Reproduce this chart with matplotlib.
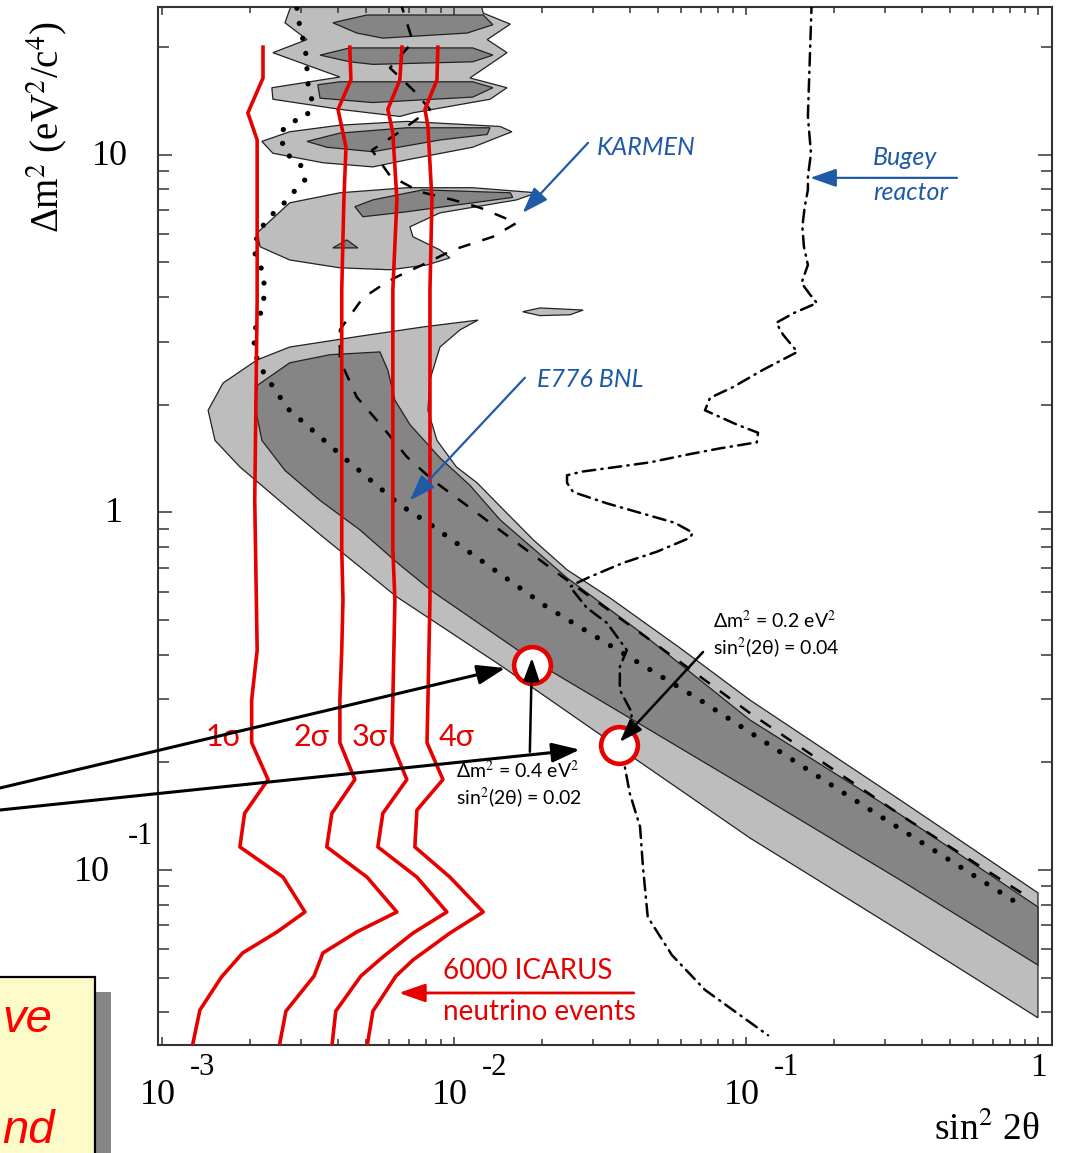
# ICARUS sensitivity vs LSND allowed region (sin^2 2theta, dm^2)

import matplotlib.pyplot as plt
from matplotlib.patches import Rectangle

plt.rcParams['mathtext.fontset'] = 'stix'
SERIF = 'Liberation Serif'
SANS = ['Lato', 'DejaVu Sans']
RED = '#e60000'
BLUE = '#1f5aa6'
LIGHT = '#bdbdbd'
DARK = '#858585'

# LSND allowed region, outer (light) contour
lsnd_light_x = [1.44e-3, 1.62e-3, 2.12e-3, 2.74e-3, 4.65e-3, 7.83e-3, 1.21e-2, 1.05e-2, 8.96e-3, 8.28e-3,
                8.15e-3, 8.75e-3, 1.02e-2, 1.20e-2, 1.44e-2, 1.87e-2, 2.44e-2, 3.42e-2, 5.94e-2, 0.103,
                0.337, 1.0, 1.0, 0.337, 0.103, 3.70e-2, 1.44e-2, 6.38e-3, 3.56e-3, 2.74e-3, 1.85e-3, 1.52e-3]
lsnd_light_y = [1.93, 2.30, 2.67, 2.90, 3.10, 3.30, 3.45, 3.24, 2.90, 2.35,
                1.93, 1.59, 1.34, 1.21, 1.04, 0.838, 0.691, 0.577, 0.418, 0.299,
                0.157, 0.0863, 0.0386, 0.0675, 0.123, 0.219, 0.374, 0.580, 0.854, 1.02, 1.34, 1.59]

# LSND allowed region, inner (dark) contour
lsnd_dark_x = [2.08e-3, 2.13e-3, 2.74e-3, 3.76e-3, 5.58e-3, 5.94e-3, 6.28e-3, 7.07e-3, 8.96e-3, 1.135e-2,
               1.44e-2, 2.44e-2, 4.34e-2, 0.103, 0.337, 1.0, 1.0, 0.337, 0.103, 1.85e-2,
               8.47e-3, 6.53e-3, 4.76e-3, 3.48e-3, 2.64e-3, 2.20e-3]
lsnd_dark_y = [2.00, 2.27, 2.62, 2.76, 2.81, 2.50, 2.06, 1.76, 1.42, 1.19,
               0.953, 0.656, 0.463, 0.263, 0.143, 0.0788, 0.0542, 0.0938, 0.168, 0.387,
               0.600, 0.713, 0.894, 1.08, 1.31, 1.59]

# high dm^2 islands (light)
light_islands = [
    ([2.81e-3, 2.64e-3, 3.14e-3, 2.40e-3, 4.07e-3, 2.38e-3, 2.40e-3, 4.07e-3, 6.53e-3, 7.24e-3,
      1.33e-2, 1.52e-2, 1.135e-2, 1.52e-2, 1.30e-2, 1.56e-2, 1.26e-2, 1.23e-2],
     [27, 23.4, 21.0, 19.3, 16.5, 15.4, 14.3, 13.4, 12.8, 13.1,
      14.3, 15.4, 16.4, 19.3, 21.0, 23.2, 24.9, 27]),
    ([2.20e-3, 2.74e-3, 4.07e-3, 6.90e-3, 1.44e-2, 1.58e-2, 1.16e-2, 6.90e-3, 5.28e-3, 3.56e-3, 2.40e-3],
     [10.9, 11.6, 12.1, 12.4, 12.0, 11.6, 10.5, 9.68, 9.25, 9.50, 10.1]),
    ([2.12e-3, 2.74e-3, 4.07e-3, 6.90e-3, 1.16e-2, 1.92e-2, 1.64e-2, 8.96e-3, 7.07e-3, 7.24e-3,
      8.96e-3, 9.69e-3, 8.09e-3, 6.04e-3, 4.07e-3, 2.74e-3, 2.17e-3],
     [6.05, 7.34, 7.83, 8.09, 8.09, 7.83, 7.48, 6.88, 6.29, 5.90,
      5.42, 5.15, 4.92, 4.77, 4.83, 5.08, 5.53]),
    ([1.72e-2, 1.97e-2, 2.77e-2, 2.50e-2, 1.97e-2],
     [3.64, 3.73, 3.68, 3.57, 3.55]),
]

# high dm^2 islands (dark)
dark_islands = [
    ([3.85e-3, 5.04e-3, 1.26e-2, 1.36e-2, 1.11e-2, 5.71e-3, 4.65e-3], [23.4, 24.6, 24.6, 23.1, 21.9, 21.2, 21.9]),
    ([3.48e-3, 4.40e-3, 1.16e-2, 1.36e-2, 1.16e-2, 5.28e-3, 4.40e-3], [19.0, 19.9, 19.9, 19.0, 18.2, 17.9, 18.2]),
    ([3.42e-3, 4.07e-3, 1.16e-2, 1.36e-2, 1.16e-2, 5.28e-3, 3.48e-3], [15.7, 16.0, 16.0, 15.4, 14.5, 14.0, 14.4]),
    ([3.14e-3, 4.07e-3, 6.90e-3, 1.33e-2, 1.30e-2, 8.96e-3, 5.28e-3, 3.67e-3],
     [10.9, 11.5, 11.9, 11.9, 11.4, 11.0, 10.2, 10.5]),
    ([4.58e-3, 5.28e-3, 7.83e-3, 1.56e-2, 1.59e-2, 1.16e-2, 6.90e-3, 4.88e-3],
     [7.16, 7.48, 7.98, 7.83, 7.60, 7.34, 6.93, 6.71]),
    ([3.85e-3, 4.30e-3, 4.69e-3], [5.49, 5.78, 5.49]),
]

# E776 BNL (dotted)
e776_x = [2.90e-3, 2.97e-3, 3.09e-3, 3.14e-3, 3.14e-3, 3.26e-3, 3.14e-3, 2.74e-3, 2.54e-3, 2.64e-3,
          2.97e-3, 3.09e-3, 2.81e-3, 2.54e-3, 2.31e-3, 2.12e-3, 2.08e-3, 2.20e-3, 2.25e-3, 2.22e-3,
          2.10e-3, 2.07e-3, 2.13e-3, 2.29e-3, 2.70e-3, 4.17e-3, 6.53e-3, 8.15e-3, 2.08e-2, 6.95e-2,
          0.227, 0.881]
e776_y = [25.7, 22.7, 20.0, 18.1, 16.2, 14.4, 12.8, 12.3, 11.5, 10.1,
          9.50, 8.51, 7.83, 7.11, 6.66, 5.97, 5.32, 4.77, 4.25, 3.76,
          3.34, 2.96, 2.62, 2.38, 1.95, 1.43, 1.05, 0.935, 0.544, 0.299,
          0.160, 0.0793]

# KARMEN (dashed)
karmen_x = [6.53e-3, 7.24e-3, 6.04e-3, 7.24e-3, 8.28e-3, 6.53e-3, 5.24e-3, 6.04e-3, 7.65e-3, 9.93e-3,
            1.23e-2, 1.64e-2, 1.36e-2, 9.93e-3, 8.09e-3, 6.38e-3, 5.90e-3, 4.88e-3, 4.07e-3, 4.07e-3,
            4.65e-3, 5.71e-3, 6.90e-3, 8.47e-3, 1.05e-2, 1.33e-2, 2.31e-2, 4.69e-2, 0.103, 0.345, 0.902]
karmen_y = [27, 20.7, 17.5, 15.2, 13.4, 11.6, 10.3, 8.74, 7.88, 7.48,
            7.11, 6.45, 5.90, 5.42, 4.99, 4.56, 4.41, 3.98, 3.24, 2.67,
            2.10, 1.73, 1.43, 1.23, 1.08, 0.935, 0.668, 0.440, 0.275, 0.141, 0.0851]

# Bugey reactor (dash-dot)
bugey_x = [0.168, 0.163, 0.167, 0.163, 0.163, 0.159, 0.156, 0.158, 0.163, 0.155,
           0.166, 0.175, 0.146, 0.127, 0.134, 0.150, 0.114, 9.02e-2, 7.53e-2, 7.24e-2,
           9.31e-2, 0.110, 0.109, 8.14e-2, 6.28e-2, 4.69e-2, 3.61e-2, 2.74e-2, 2.44e-2, 2.44e-2,
           2.56e-2, 3.34e-2, 4.34e-2, 5.71e-2, 6.58e-2, 6.43e-2, 4.95e-2, 3.79e-2, 2.92e-2, 2.64e-2,
           2.50e-2, 2.85e-2, 3.34e-2, 3.91e-2, 3.70e-2, 3.70e-2, 4.07e-2, 3.85e-2, 4.00e-2, 4.34e-2,
           4.44e-2, 4.61e-2, 5.58e-2, 7.24e-2, 9.53e-2, 0.119]
bugey_y = [27, 12.8, 10.1, 8.68, 7.98, 7.16, 6.29, 5.53, 4.92, 4.38,
           4.06, 3.85, 3.61, 3.39, 3.14, 2.81, 2.50, 2.24, 2.09, 1.93,
           1.76, 1.67, 1.57, 1.51, 1.45, 1.38, 1.34, 1.30, 1.27, 1.21,
           1.14, 1.06, 0.997, 0.935, 0.877, 0.849, 0.776, 0.722, 0.660, 0.635,
           0.619, 0.541, 0.491, 0.412, 0.370, 0.319, 0.275, 0.194, 0.164, 0.132,
           0.102, 0.0739, 0.0578, 0.0462, 0.0393, 0.0345]

# ICARUS 6000 events sensitivity, 1..4 sigma
s1_x = [2.22e-3, 2.22e-3, 1.97e-3, 2.12e-3, 2.12e-3, 2.08e-3, 2.12e-3, 2.03e-3, 2.03e-3, 2.31e-3,
        1.92e-3, 1.85e-3, 2.60e-3, 3.09e-3, 2.48e-3, 1.89e-3, 1.60e-3, 1.35e-3, 1.27e-3]
s1_y = [20.0, 16.4, 13.1, 11.0, 3.93, 1.08, 0.412, 0.299, 0.227, 0.179,
        0.144, 0.116, 0.0955, 0.0763, 0.0671, 0.0586, 0.0502, 0.0406, 0.032]
s2_x = [4.40e-3, 4.44e-3, 4.01e-3, 4.27e-3, 4.20e-3, 4.13e-3, 4.13e-3, 4.17e-3, 4.13e-3, 4.07e-3,
        4.07e-3, 4.58e-3, 3.82e-3, 3.67e-3, 5.04e-3, 6.38e-3, 4.65e-3, 3.56e-3, 3.32e-3, 2.66e-3, 2.52e-3]
s2_y = [20.0, 16.2, 13.4, 10.5, 7.48, 4.19, 0.786, 0.569, 0.412, 0.299,
        0.227, 0.179, 0.144, 0.116, 0.0955, 0.0763, 0.0671, 0.0586, 0.0505, 0.0403, 0.032]
s3_x = [6.64e-3, 6.53e-3, 5.94e-3, 6.18e-3, 6.38e-3, 6.18e-3, 6.18e-3, 6.28e-3, 6.18e-3, 6.13e-3,
        6.90e-3, 5.71e-3, 5.49e-3, 7.47e-3, 9.46e-3, 7.24e-3, 5.71e-3, 4.80e-3, 3.94e-3, 3.82e-3]
s3_y = [20.0, 16.2, 13.4, 11.5, 7.48, 4.19, 0.786, 0.569, 0.299, 0.227,
        0.179, 0.144, 0.116, 0.0955, 0.0763, 0.0666, 0.0571, 0.0505, 0.0403, 0.032]
s4_x = [8.81e-3, 8.75e-3, 7.96e-3, 8.15e-3, 8.41e-3, 8.28e-3, 8.28e-3, 8.15e-3, 8.09e-3, 9.17e-3,
        7.47e-3, 7.35e-3, 9.69e-3, 1.26e-2, 9.69e-3, 7.24e-3, 6.33e-3, 5.28e-3, 5.04e-3]
s4_y = [20.0, 16.2, 13.4, 12.0, 7.48, 4.19, 0.569, 0.299, 0.227, 0.179,
        0.147, 0.116, 0.0955, 0.0763, 0.0666, 0.0560, 0.0505, 0.0403, 0.032]
sigma_labels = ['1σ', '2σ', '3σ', '4σ']
sigma_label_x = [1.63e-3, 3.26e-3, 5.16e-3, 1.02e-2]

# the two test points
point_x = [1.85e-2, 3.67e-2]
point_y = [0.374, 0.224]

fig = plt.figure(figsize=(10.65, 11.53), dpi=100)
ax = fig.add_axes([158 / 1065, 108 / 1153, 894 / 1065, 1038 / 1153])
ax.set_xscale('log')
ax.set_yscale('log')
ax.set_xlim(9.7e-4, 1.117)
ax.set_ylim(0.0324, 25.9)

for xs, ys in [(lsnd_light_x, lsnd_light_y)] + light_islands:
    ax.fill(xs, ys, facecolor=LIGHT, edgecolor='#222222', linewidth=0.9, zorder=1)
for xs, ys in [(lsnd_dark_x, lsnd_dark_y)] + dark_islands:
    ax.fill(xs, ys, facecolor=DARK, edgecolor='#222222', linewidth=0.9, zorder=2)

ax.plot(e776_x, e776_y, color='black', linewidth=3.8, linestyle=(0, (0.01, 2.9)),
        dash_capstyle='round', zorder=3)
ax.plot(karmen_x, karmen_y, color='black', linewidth=1.8, linestyle=(0, (5, 5)), zorder=3)
ax.plot(bugey_x, bugey_y, color='black', linewidth=1.8, linestyle=(0, (5, 2.5, 0.5, 2.5)),
        dash_capstyle='round', zorder=3)

for xs, ys in [(s1_x, s1_y), (s2_x, s2_y), (s3_x, s3_y), (s4_x, s4_y)]:
    ax.plot(xs, ys, color=RED, linewidth=2.6, zorder=4)
for lab, lx in zip(sigma_labels, sigma_label_x):
    ax.text(lx, 0.236, lab, color=RED, fontsize=22, family=SANS, ha='center', va='center', zorder=5)

ax.scatter(point_x, point_y, s=700, facecolor='white', edgecolor=RED, linewidth=3.3, zorder=6)

# arrows and labels for the test points
arr = dict(arrowstyle='-|>,head_length=1.0,head_width=0.35', color='black', lw=1.8,
           shrinkA=0, shrinkB=0, mutation_scale=14)
ax.annotate('', xy=(1.85e-2, 0.392), xytext=(1.82e-2, 0.214), arrowprops=arr, zorder=7)
ax.annotate('', xy=(3.70e-2, 0.228), xytext=(7.13e-2, 0.407), arrowprops=arr, zorder=7)
ax.annotate('', xy=(1.50e-2, 0.367), xytext=(0, 1153 - 788), textcoords='figure pixels',
            arrowprops=dict(arr, lw=2.2, mutation_scale=17), annotation_clip=False, zorder=7)
ax.annotate('', xy=(2.70e-2, 0.217), xytext=(0, 1153 - 810), textcoords='figure pixels',
            arrowprops=dict(arr, lw=2.2, mutation_scale=17), annotation_clip=False, zorder=7)
ax.text(1.02e-2, 0.190, 'Δm$^2$ = 0.4 eV$^2$', fontsize=14, family=SANS, va='center', zorder=7)
ax.text(1.02e-2, 0.159, 'sin$^2$(2θ) = 0.02', fontsize=14, family=SANS, va='center', zorder=7)
ax.text(7.71e-2, 0.500, 'Δm$^2$ = 0.2 eV$^2$', fontsize=14, family=SANS, va='center', zorder=7)
ax.text(7.71e-2, 0.418, 'sin$^2$(2θ) = 0.04', fontsize=14, family=SANS, va='center', zorder=7)

# experiment labels
barr = dict(arrowstyle='-|>,head_length=1.0,head_width=0.35', color=BLUE, lw=1.6,
            shrinkA=0, shrinkB=0, mutation_scale=16)
ax.annotate('', xy=(1.72e-2, 6.88), xytext=(2.88e-2, 10.8), arrowprops=barr, zorder=7)
ax.annotate('', xy=(7.07e-3, 1.08), xytext=(1.75e-2, 2.38), arrowprops=barr, zorder=7)
ax.annotate('', xy=(0.166, 8.62), xytext=(0.528, 8.62), arrowprops=barr, zorder=7)
ax.text(3.09e-2, 10.5, 'KARMEN', color=BLUE, fontsize=18, family=SANS, style='italic', va='center')
ax.text(1.92e-2, 2.35, 'E776 BNL', color=BLUE, fontsize=18, family=SANS, style='italic', va='center')
ax.text(0.272, 9.81, 'Bugey', color=BLUE, fontsize=18, family=SANS, style='italic', va='center')
ax.text(0.272, 7.83, 'reactor', color=BLUE, fontsize=18, family=SANS, style='italic', va='center')

rarr = dict(arrowstyle='-|>,head_length=1.0,head_width=0.35', color=RED, lw=2,
            shrinkA=0, shrinkB=0, mutation_scale=16)
ax.annotate('', xy=(6.48e-3, 0.0453), xytext=(4.13e-2, 0.0453), arrowprops=rarr, zorder=7)
ax.text(9.17e-3, 0.0522, '6000 ICARUS', color=RED, fontsize=20, family=SANS, va='center')
ax.text(9.17e-3, 0.0401, 'neutrino events', color=RED, fontsize=20, family=SANS, va='center')

# axes styling
for sp in ax.spines.values():
    sp.set_linewidth(1.5)
    sp.set_color('#333333')
ax.tick_params(axis='y', which='major', direction='in', length=10, width=1.1, left=True, right=True)
ax.tick_params(axis='y', which='minor', direction='in', length=8, width=1.1, left=True, right=True)
ax.tick_params(axis='x', which='major', direction='in', length=6, width=1.1, top=True, bottom=True)
ax.tick_params(axis='x', which='minor', direction='in', length=4, width=1.1, top=True, bottom=True)
ax.tick_params(which='both', labelbottom=False, labelleft=False, color='#333333')

# PAW style tick labels
xt = ax.get_xaxis_transform()
for v, e in zip([1e-3, 1e-2, 1e-1], ['-3', '-2', '-1']):
    ax.annotate('10', xy=(v, 0), xycoords=xt, xytext=(-3, -36), textcoords='offset points',
                ha='center', va='center', fontsize=26, family=SERIF, annotation_clip=False)
    ax.annotate(e, xy=(v, 0), xycoords=xt, xytext=(29, -16.5), textcoords='offset points',
                ha='center', va='center', fontsize=22, family=SERIF, annotation_clip=False)
ax.annotate('1', xy=(1, 0), xycoords=xt, xytext=(0.5, -16.5), textcoords='offset points',
            ha='center', va='center', fontsize=24, family=SERIF, annotation_clip=False)

yt = ax.get_yaxis_transform()
ax.annotate('10', xy=(0, 10), xycoords=yt, xytext=(-22, -1.5), textcoords='offset points',
            ha='right', va='center', fontsize=26, family=SERIF, annotation_clip=False)
ax.annotate('1', xy=(0, 1), xycoords=yt, xytext=(-25, -1), textcoords='offset points',
            ha='right', va='center', fontsize=26, family=SERIF, annotation_clip=False)
ax.annotate('10', xy=(0, 0.1), xycoords=yt, xytext=(-34.5, -1.5), textcoords='offset points',
            ha='right', va='center', fontsize=26, family=SERIF, annotation_clip=False)
ax.annotate('-1', xy=(0, 0.1), xycoords=yt, xytext=(-3.6, 24), textcoords='offset points',
            ha='right', va='center', fontsize=22, family=SERIF, annotation_clip=False)

fig.text(47 / 1065, 1 - 127 / 1153, 'Δm$^2$ (eV$^2$/c$^4$)', rotation=90,
         ha='center', va='center', fontsize=28, family=SERIF)
fig.text(1040 / 1065, 1 - 1130 / 1153, 'sin$^2$ 2θ', ha='right', va='center',
         fontsize=27, family=SERIF)

# cut-off note box in the lower left corner
fig.patches.append(Rectangle((15 / 1065, -0.05), 96 / 1065, 0.05 + 1 - 992 / 1153,
                             transform=fig.transFigure, facecolor='#858585', edgecolor='none', zorder=0))
fig.patches.append(Rectangle((-0.05, -0.05), 0.05 + 95 / 1065, 0.05 + 1 - 977 / 1153,
                             transform=fig.transFigure, facecolor='#fdfcc8', edgecolor='black',
                             linewidth=1.6, zorder=1))
fig.text(2 / 1065, 1 - 1032 / 1153, 've', color='#ff0000', fontsize=34, style='italic',
         family='Liberation Sans', ha='left', va='baseline')
fig.text(2 / 1065, 1 - 1143 / 1153, 'nd', color='#ff0000', fontsize=34, style='italic',
         family='Liberation Sans', ha='left', va='baseline')

fig.savefig('out.png', dpi=100)
